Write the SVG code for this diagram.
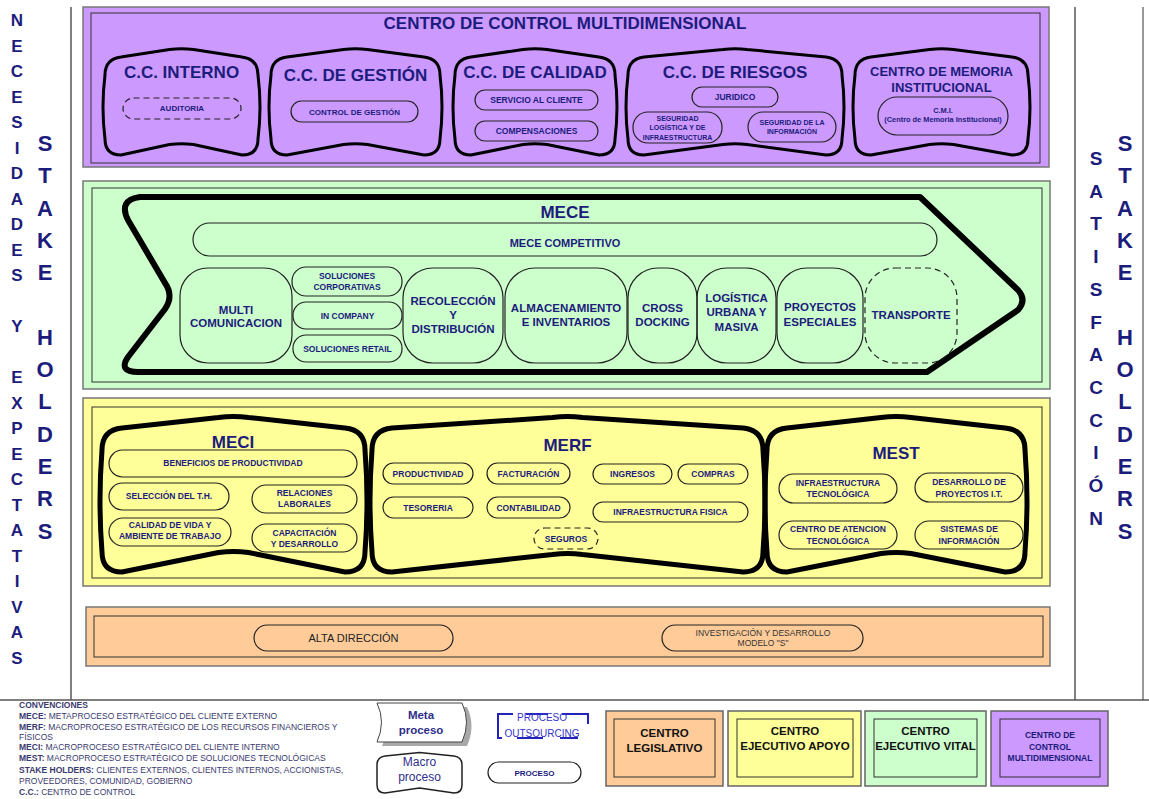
<svg xmlns="http://www.w3.org/2000/svg" width="1149" height="799" viewBox="0 0 1149 799">
<style>
text { font-family: "Liberation Sans", Arial, sans-serif; font-weight: bold; fill: #1c1c7c; text-anchor: middle; }
.side { font-size: 17px; }
.sideL { font-size: 22px; }
.side2 { font-size: 19px; }
.h17 { font-size: 17px; }
.h13 { font-size: 13px; }
.s8 { font-size: 8px; }
.s85 { font-size: 8.5px; }
.s7 { font-size: 7px; }
.s11 { font-size: 11px; }
.s115 { font-size: 11.5px; }
.p { fill: none; stroke: #222; stroke-width: 1.2; }
.dash { stroke-dasharray: 6 4; }
.macro { fill: none; stroke: #000; stroke-linejoin: round; }
.m3 { stroke-width: 3; }
.m5 { stroke-width: 5; }
.frame { stroke: #777; stroke-width: 1.5; }
.inner { fill: none; stroke: #333; stroke-width: 1; }
.leg { font-size: 8.5px; font-weight: normal; text-anchor: start; fill: #3a3a6e; }
.line { stroke: #555; stroke-width: 1.5; fill: none; }
.blk { fill: #111; }
</style>

<g id="frame-lines">
  <line class="line" x1="71" y1="7" x2="71" y2="700"/>
  <line class="line" x1="1075" y1="7" x2="1075" y2="700"/>
  <line x1="1143" y1="7" x2="1143" y2="700" stroke="#333" stroke-width="1"/>
  <line class="line" x1="0" y1="700" x2="1149" y2="700"/>
</g>

<g id="side-left">
  <text class="side" x="17"><tspan x="17" y="26">N</tspan><tspan x="17" dy="25.5">E</tspan><tspan x="17" dy="25.5">C</tspan><tspan x="17" dy="25.5">E</tspan><tspan x="17" dy="25.5">S</tspan><tspan x="17" dy="25.5">I</tspan><tspan x="17" dy="25.5">D</tspan><tspan x="17" dy="25.5">A</tspan><tspan x="17" dy="25.5">D</tspan><tspan x="17" dy="25.5">E</tspan><tspan x="17" dy="25.5">S</tspan><tspan x="17" dy="51">Y</tspan><tspan x="17" dy="51">E</tspan><tspan x="17" dy="25.5">X</tspan><tspan x="17" dy="25.5">P</tspan><tspan x="17" dy="25.5">E</tspan><tspan x="17" dy="25.5">C</tspan><tspan x="17" dy="25.5">T</tspan><tspan x="17" dy="25.5">A</tspan><tspan x="17" dy="25.5">T</tspan><tspan x="17" dy="25.5">I</tspan><tspan x="17" dy="25.5">V</tspan><tspan x="17" dy="25.5">A</tspan><tspan x="17" dy="25.5">S</tspan></text>
  <text class="sideL" x="45"><tspan x="45" y="151">S</tspan><tspan x="45" dy="32.3">T</tspan><tspan x="45" dy="32.3">A</tspan><tspan x="45" dy="32.3">K</tspan><tspan x="45" dy="32.3">E</tspan><tspan x="45" dy="64.6">H</tspan><tspan x="45" dy="32.3">O</tspan><tspan x="45" dy="32.3">L</tspan><tspan x="45" dy="32.3">D</tspan><tspan x="45" dy="32.3">E</tspan><tspan x="45" dy="32.3">R</tspan><tspan x="45" dy="32.3">S</tspan></text>
</g>

<g id="side-right">
  <text class="side2" x="1096"><tspan x="1096" y="165">S</tspan><tspan x="1096" dy="32.7">A</tspan><tspan x="1096" dy="32.7">T</tspan><tspan x="1096" dy="32.7">I</tspan><tspan x="1096" dy="32.7">S</tspan><tspan x="1096" dy="32.7">F</tspan><tspan x="1096" dy="32.7">A</tspan><tspan x="1096" dy="32.7">C</tspan><tspan x="1096" dy="32.7">C</tspan><tspan x="1096" dy="32.7">I</tspan><tspan x="1096" dy="32.7">Ó</tspan><tspan x="1096" dy="32.7">N</tspan></text>
  <text class="sideL" x="1125"><tspan x="1125" y="151">S</tspan><tspan x="1125" dy="32.3">T</tspan><tspan x="1125" dy="32.3">A</tspan><tspan x="1125" dy="32.3">K</tspan><tspan x="1125" dy="32.3">E</tspan><tspan x="1125" dy="64.6">H</tspan><tspan x="1125" dy="32.3">O</tspan><tspan x="1125" dy="32.3">L</tspan><tspan x="1125" dy="32.3">D</tspan><tspan x="1125" dy="32.3">E</tspan><tspan x="1125" dy="32.3">R</tspan><tspan x="1125" dy="32.3">S</tspan></text>
</g>

<!-- CENTRO DE CONTROL MULTIDIMENSIONAL -->
<g id="ccm">
  <rect x="83" y="7" width="966" height="160" fill="#CC99FF" class="frame"/>
  <rect x="91" y="13" width="949" height="150" class="inner"/>
  <text class="h17" x="565" y="29">CENTRO DE CONTROL MULTIDIMENSIONAL</text>
</g>
<g id="cc-interno">
  <path class="macro m3" d="M105,75 Q105,59 121,57 L169.5,49.5 Q181.5,48 193.5,49.5 L242,57 Q258,59 258,75 Q262,107 258,139 Q258,155 242,155 L193.5,144.5 Q181.5,143 169.5,144.5 L121,155 Q105,155 105,139 Q101,107 105,75 Z"/>
  <text class="h17" x="181.5" y="78">C.C. INTERNO</text>
  <rect class="p dash" x="123" y="98" width="118" height="21" rx="10.5"/>
  <text class="s8" x="182" y="111">AUDITORIA</text>
</g>
<g id="cc-gestion">
  <path class="macro m3" d="M271,75 Q271,59 287,57 L343.5,49.5 Q355.5,48 367.5,49.5 L424,57 Q440,59 440,75 Q444,107 440,139 Q440,155 424,155 L367.5,144.5 Q355.5,143 343.5,144.5 L287,155 Q271,155 271,139 Q267,107 271,75 Z"/>
  <text class="h17" x="355.5" y="81">C.C. DE GESTIÓN</text>
  <rect class="p" x="291" y="101" width="127" height="21" rx="10.5"/>
  <text class="s8" x="354.5" y="114.5">CONTROL DE GESTIÓN</text>
</g>
<g id="cc-calidad">
  <path class="macro m3" d="M455,75 Q455,59 471,57 L523,49.5 Q535,48 547,49.5 L599,57 Q615,59 615,75 Q619,107 615,139 Q615,155 599,155 L547,144.5 Q535,143 523,144.5 L471,155 Q455,155 455,139 Q451,107 455,75 Z"/>
  <text class="h17" x="535" y="78">C.C. DE CALIDAD</text>
  <rect class="p" x="475" y="90" width="123" height="20" rx="10"/>
  <text class="s85" x="536.5" y="103">SERVICIO AL CLIENTE</text>
  <rect class="p" x="475" y="121" width="123" height="20" rx="10"/>
  <text class="s85" x="536.5" y="134">COMPENSACIONES</text>
</g>
<g id="cc-riesgos">
  <path class="macro m3" d="M628,75 Q628,59 644,57 L723,49.5 Q735,48 747,49.5 L826,57 Q842,59 842,75 Q846,107 842,139 Q842,155 826,155 L747,144.5 Q735,143 723,144.5 L644,155 Q628,155 628,139 Q624,107 628,75 Z"/>
  <text class="h17" x="735" y="78">C.C. DE RIESGOS</text>
  <rect class="p" x="692" y="87" width="86" height="20" rx="10"/>
  <text class="s85" x="735" y="100">JURIDICO</text>
  <rect class="p" x="633" y="112" width="89" height="31" rx="15"/>
  <text class="s7" x="677.5"><tspan x="677.5" y="120.5">SEGURIDAD</tspan><tspan x="677.5" y="130">LOGÍSTICA Y DE</tspan><tspan x="677.5" y="139.5">INFRAESTRUCTURA</tspan></text>
  <rect class="p" x="748" y="112" width="88" height="30" rx="15"/>
  <text class="s7" x="792"><tspan x="792" y="125">SEGURIDAD DE LA</tspan><tspan x="792" y="134">INFORMACIÓN</tspan></text>
</g>
<g id="cc-memoria">
  <path class="macro m3" d="M855,75 Q855,59 871,57 L929.5,49.5 Q941.5,48 953.5,49.5 L1012,57 Q1028,59 1028,75 Q1032,107 1028,139 Q1028,155 1012,155 L953.5,144.5 Q941.5,143 929.5,144.5 L871,155 Q855,155 855,139 Q851,107 855,75 Z"/>
  <text class="h13" x="941.5"><tspan x="941.5" y="76">CENTRO DE MEMORIA</tspan><tspan x="941.5" y="92">INSTITUCIONAL</tspan></text>
  <rect class="p" x="878" y="97" width="130" height="38" rx="19"/>
  <text class="s7" x="943" style="font-size:7.4px"><tspan x="943" y="113">C.M.I.</tspan><tspan x="943" y="121.5">(Centro de Memoria Institucional)</tspan></text>
</g>

<!-- MECE -->
<g id="centro-vital">
  <rect x="83" y="181" width="967" height="208" fill="#CCFFCC" class="frame"/>
  <rect x="92" y="188" width="950" height="194" class="inner"/>
</g>
<g id="mece">
  <path class="macro" stroke-width="6" d="M140,197 L920,197 L1018,290 Q1027,300 1018,310 L927,372 L138,372 Q118,372 128,357 L165,309 Q174,296 165,283 L128,220 Q118,200 140,197 Z"/>
  <text class="h17" x="565" y="218">MECE</text>
  <rect class="p" x="193" y="223" width="744" height="33" rx="16.5"/>
  <text class="s11" x="565" y="247">MECE COMPETITIVO</text>
</g>
<g id="multi">
  <rect class="p" x="180" y="268" width="112" height="95" rx="28"/>
  <text class="s115" x="236"><tspan x="236" y="314">MULTI</tspan><tspan x="236" y="327">COMUNICACION</tspan></text>
</g>
<g id="sol-corp">
  <rect class="p" x="292" y="267" width="110" height="29" rx="14"/>
  <text class="s85" x="347"><tspan x="347" y="278.5">SOLUCIONES</tspan><tspan x="347" y="290">CORPORATIVAS</tspan></text>
</g>
<g id="in-company">
  <rect class="p" x="293" y="302" width="109" height="27" rx="13"/>
  <text class="s85" x="347.5" y="318.5">IN COMPANY</text>
</g>
<g id="sol-retail">
  <rect class="p" x="293" y="335" width="109" height="27" rx="13"/>
  <text class="s85" x="347.5" y="351.5">SOLUCIONES RETAIL</text>
</g>
<g id="recoleccion">
  <rect class="p" x="403" y="268" width="100" height="95" rx="30"/>
  <text class="s115" x="453"><tspan x="453" y="305">RECOLECCIÓN</tspan><tspan x="453" y="319">Y</tspan><tspan x="453" y="332.5">DISTRIBUCIÓN</tspan></text>
</g>
<g id="almacenamiento">
  <rect class="p" x="505" y="268" width="122" height="95" rx="30"/>
  <text class="s115" x="566"><tspan x="566" y="312">ALMACENAMIENTO</tspan><tspan x="566" y="326">E INVENTARIOS</tspan></text>
</g>
<g id="cross-docking">
  <rect class="p" x="628" y="268" width="69" height="95" rx="30"/>
  <text class="s115" x="662.5"><tspan x="662.5" y="312">CROSS</tspan><tspan x="662.5" y="326">DOCKING</tspan></text>
</g>
<g id="logistica">
  <rect class="p" x="697" y="268" width="79" height="95" rx="30"/>
  <text class="s115" x="736.5"><tspan x="736.5" y="302">LOGÍSTICA</tspan><tspan x="736.5" y="316">URBANA Y</tspan><tspan x="736.5" y="331">MASIVA</tspan></text>
</g>
<g id="proyectos">
  <rect class="p" x="777" y="268" width="86" height="95" rx="30"/>
  <text class="s115" x="820"><tspan x="820" y="311">PROYECTOS</tspan><tspan x="820" y="326">ESPECIALES</tspan></text>
</g>
<g id="transporte">
  <rect class="p dash" x="865" y="268" width="92" height="95" rx="30"/>
  <text class="s115" x="911" y="319">TRANSPORTE</text>
</g>

<!-- CENTRO EJECUTIVO APOYO -->
<g id="centro-apoyo">
  <rect x="83" y="398" width="967" height="188" fill="#FFFF99" class="frame"/>
  <rect x="92" y="407" width="950" height="171" class="inner"/>
</g>
<g id="meci">
  <path class="macro m5" d="M102,450 Q102,430 122,428 L218.5,417.5 Q233.5,415.5 248.5,417.5 L345,428 Q365,430 365,450 Q369,501 365,552 Q365,572 345,572 L248.5,552.5 Q233.5,550.5 218.5,552.5 L122,572 Q102,572 102,552 Q98,501 102,450 Z"/>
  <text class="h17" x="233" y="448">MECI</text>
  <rect class="p" x="109" y="450" width="248" height="27" rx="13.5"/>
  <text class="s85" x="233" y="466">BENEFICIOS DE PRODUCTIVIDAD</text>
  <rect class="p" x="109" y="483" width="120" height="27" rx="13.5"/>
  <text class="s85" x="169" y="499">SELECCIÓN DEL T.H.</text>
  <rect class="p" x="252" y="485" width="105" height="28" rx="14"/>
  <text class="s85" x="304.5"><tspan x="304.5" y="496">RELACIONES</tspan><tspan x="304.5" y="506.5">LABORALES</tspan></text>
  <rect class="p" x="109" y="518" width="122" height="28" rx="14"/>
  <text class="s85" x="170"><tspan x="170" y="528">CALIDAD DE VIDA Y</tspan><tspan x="170" y="539">AMBIENTE DE TRABAJO</tspan></text>
  <rect class="p" x="252" y="524" width="105" height="28" rx="14"/>
  <text class="s85" x="304.5"><tspan x="304.5" y="535.5">CAPACITACIÓN</tspan><tspan x="304.5" y="546.5">Y DESARROLLO</tspan></text>
</g>
<g id="merf">
  <path class="macro m5" d="M372,450 Q372,430 392,428 L552.5,417.5 Q567.5,415.5 582.5,417.5 L743,428 Q763,430 763,450 Q767,501 763,552 Q763,572 743,572 L582.5,554.5 Q567.5,552.5 552.5,554.5 L392,572 Q372,572 372,552 Q368,501 372,450 Z"/>
  <text class="h17" x="567.5" y="451">MERF</text>
  <rect class="p" x="383" y="463" width="90" height="21" rx="10.5"/>
  <text class="s85" x="428" y="476.5">PRODUCTIVIDAD</text>
  <rect class="p" x="487" y="463" width="83" height="21" rx="10.5"/>
  <text class="s85" x="528.5" y="476.5">FACTURACIÓN</text>
  <rect class="p" x="593" y="464" width="79" height="20" rx="10"/>
  <text class="s85" x="632.5" y="477">INGRESOS</text>
  <rect class="p" x="678" y="464" width="70" height="20" rx="10"/>
  <text class="s85" x="713" y="477">COMPRAS</text>
  <rect class="p" x="383" y="497" width="90" height="21" rx="10.5"/>
  <text class="s85" x="428" y="510.5">TESORERIA</text>
  <rect class="p" x="487" y="497" width="83" height="21" rx="10.5"/>
  <text class="s85" x="528.5" y="510.5">CONTABILIDAD</text>
  <rect class="p" x="593" y="502" width="155" height="20" rx="10"/>
  <text class="s85" x="670.5" y="515">INFRAESTRUCTURA FISICA</text>
  <rect class="p dash" x="534" y="528" width="64" height="21" rx="10.5"/>
  <text class="s85" x="566" y="541.5">SEGUROS</text>
</g>
<g id="mest">
  <path class="macro m5" d="M767,450 Q767,430 787,428 L881,417.5 Q896,415.5 911,417.5 L1005,428 Q1025,430 1025,450 Q1029,501 1025,552 Q1025,572 1005,572 L911,553.5 Q896,551.5 881,553.5 L787,572 Q767,572 767,552 Q763,501 767,450 Z"/>
  <text class="h17" x="896" y="459">MEST</text>
  <rect class="p" x="779" y="474" width="118" height="29" rx="14.5"/>
  <text class="s85" x="838"><tspan x="838" y="485.5">INFRAESTRUCTURA</tspan><tspan x="838" y="497">TECNOLÓGICA</tspan></text>
  <rect class="p" x="915" y="473" width="108" height="29" rx="14.5"/>
  <text class="s85" x="969"><tspan x="969" y="485">DESARROLLO DE</tspan><tspan x="969" y="496.5">PROYECTOS I.T.</tspan></text>
  <rect class="p" x="779" y="521" width="118" height="28" rx="14"/>
  <text class="s85" x="838"><tspan x="838" y="531.5">CENTRO DE ATENCION</tspan><tspan x="838" y="544">TECNOLÓGICA</tspan></text>
  <rect class="p" x="915" y="521" width="108" height="28" rx="14"/>
  <text class="s85" x="969"><tspan x="969" y="532">SISTEMAS DE</tspan><tspan x="969" y="544">INFORMACIÓN</tspan></text>
</g>

<!-- CENTRO LEGISLATIVO -->
<g id="centro-legislativo">
  <rect x="86" y="607" width="964" height="59" fill="#FFCC99" class="frame"/>
  <rect x="94" y="616" width="949" height="41" class="inner"/>
</g>
<g id="alta-direccion">
  <rect class="p" x="254" y="625" width="199" height="26" rx="13"/>
  <text x="353.5" y="641.5" style="font-size:11px;font-weight:normal;fill:#222">ALTA DIRECCIÓN</text>
</g>
<g id="investigacion">
  <rect class="p" x="662" y="625" width="201" height="26" rx="13"/>
  <text x="763" style="font-size:8.5px;font-weight:normal;fill:#333"><tspan x="763" y="635.5">INVESTIGACIÓN Y DESARROLLO</tspan><tspan x="763" y="646">MODELO "S"</tspan></text>
</g>

<!-- LEGEND -->
<g id="legend-text">
  <text class="leg" x="19" y="708"><tspan font-weight="bold">CONVENCIONES</tspan></text>
  <text class="leg" x="19" y="719"><tspan font-weight="bold">MECE:</tspan> METAPROCESO ESTRATÉGICO DEL CLIENTE EXTERNO</text>
  <text class="leg" x="19" y="730"><tspan font-weight="bold">MERF:</tspan> MACROPROCESO ESTRATÉGICO DE LOS RECURSOS FINANCIEROS Y</text>
  <text class="leg" x="19" y="740">FÍSICOS</text>
  <text class="leg" x="19" y="750"><tspan font-weight="bold">MECI:</tspan> MACROPROCESO ESTRATÉGICO DEL CLIENTE INTERNO</text>
  <text class="leg" x="19" y="761"><tspan font-weight="bold">MEST:</tspan> MACROPROCESO ESTRATÉGICO DE SOLUCIONES TECNOLÓGICAS</text>
  <text class="leg" x="19" y="773"><tspan font-weight="bold">STAKE HOLDERS:</tspan> CLIENTES EXTERNOS, CLIENTES INTERNOS, ACCIONISTAS,</text>
  <text class="leg" x="19" y="784">PROVEEDORES, COMUNIDAD, GOBIERNO</text>
  <text class="leg" x="19" y="795"><tspan font-weight="bold">C.C.:</tspan> CENTRO DE CONTROL</text>
</g>
<g id="legend-meta">
  <path d="M377,703 L462,703 Q471,722 462,742 L377,742 Q386,722 377,703 Z" fill="#A8A8A8" transform="translate(5,4)"/>
  <path d="M377,703 L462,703 Q471,722 462,742 L377,742 Q386,722 377,703 Z" fill="#fff" stroke="#444" stroke-width="1"/>
  <text x="421" style="font-size:11.5px;fill:#2e2e8a"><tspan x="421" y="719">Meta</tspan><tspan x="421" y="734">proceso</tspan></text>
</g>
<g id="legend-macro">
  <path d="M377,765 Q377,757 385,756 L419.5,752.5 L454,756 Q462,757 462,765 L462,785 Q462,793 454,793 L419.5,788 L385,793 Q377,793 377,785 Z" fill="#fff" stroke="#222" stroke-width="1.5" stroke-linejoin="round"/>
  <text x="419.5" style="font-size:12px;font-weight:normal;fill:#2e2e8a"><tspan x="419.5" y="766">Macro</tspan><tspan x="419.5" y="781">proceso</tspan></text>
</g>
<g id="legend-outsourcing">
  <path d="M513,714 L498,714 L498,738 L502,738 M526,714 L548,714 M562,714 L588,714 L588,724 M517,738 L543,738 M560,738 L578,738" fill="none" stroke="#2323bb" stroke-width="2"/>
  <text x="542" style="font-size:10px;font-weight:normal;fill:#3333cc"><tspan x="542" y="721">PROCESO</tspan><tspan x="542" y="737">OUTSOURCING</tspan></text>
</g>
<g id="legend-proceso">
  <rect x="488" y="762" width="93" height="21" rx="10.5" fill="#fff" stroke="#222" stroke-width="1.2"/>
  <text class="s8" x="534.5" y="775.5">PROCESO</text>
</g>
<g id="legend-legislativo">
  <rect x="606" y="711" width="117" height="75" fill="#FFCC99" stroke="#666" stroke-width="1.5"/>
  <rect x="614" y="719" width="101" height="58" class="inner"/>
  <text class="blk" x="664.5" style="font-size:11.5px"><tspan x="664.5" y="737">CENTRO</tspan><tspan x="664.5" y="752">LEGISLATIVO</tspan></text>
</g>
<g id="legend-apoyo">
  <rect x="728" y="711" width="133" height="75" fill="#FFFF99" stroke="#666" stroke-width="1.5"/>
  <rect x="737" y="719" width="116" height="58" class="inner"/>
  <text class="blk" x="795" style="font-size:11.5px"><tspan x="795" y="735">CENTRO</tspan><tspan x="795" y="750">EJECUTIVO APOYO</tspan></text>
</g>
<g id="legend-vital">
  <rect x="865" y="711" width="121" height="75" fill="#CCFFCC" stroke="#666" stroke-width="1.5"/>
  <rect x="874" y="719" width="103" height="58" class="inner"/>
  <text class="blk" x="925.5" style="font-size:11.5px"><tspan x="925.5" y="735">CENTRO</tspan><tspan x="925.5" y="750">EJECUTIVO VITAL</tspan></text>
</g>
<g id="legend-multidimensional">
  <rect x="991" y="711" width="117" height="75" fill="#CC99FF" stroke="#666" stroke-width="1.5"/>
  <rect x="1000" y="719" width="100" height="58" class="inner"/>
  <text class="s85" x="1050"><tspan x="1050" y="738">CENTRO DE</tspan><tspan x="1050" y="749.5">CONTROL</tspan><tspan x="1050" y="761">MULTIDIMENSIONAL</tspan></text>
</g>
</svg>
